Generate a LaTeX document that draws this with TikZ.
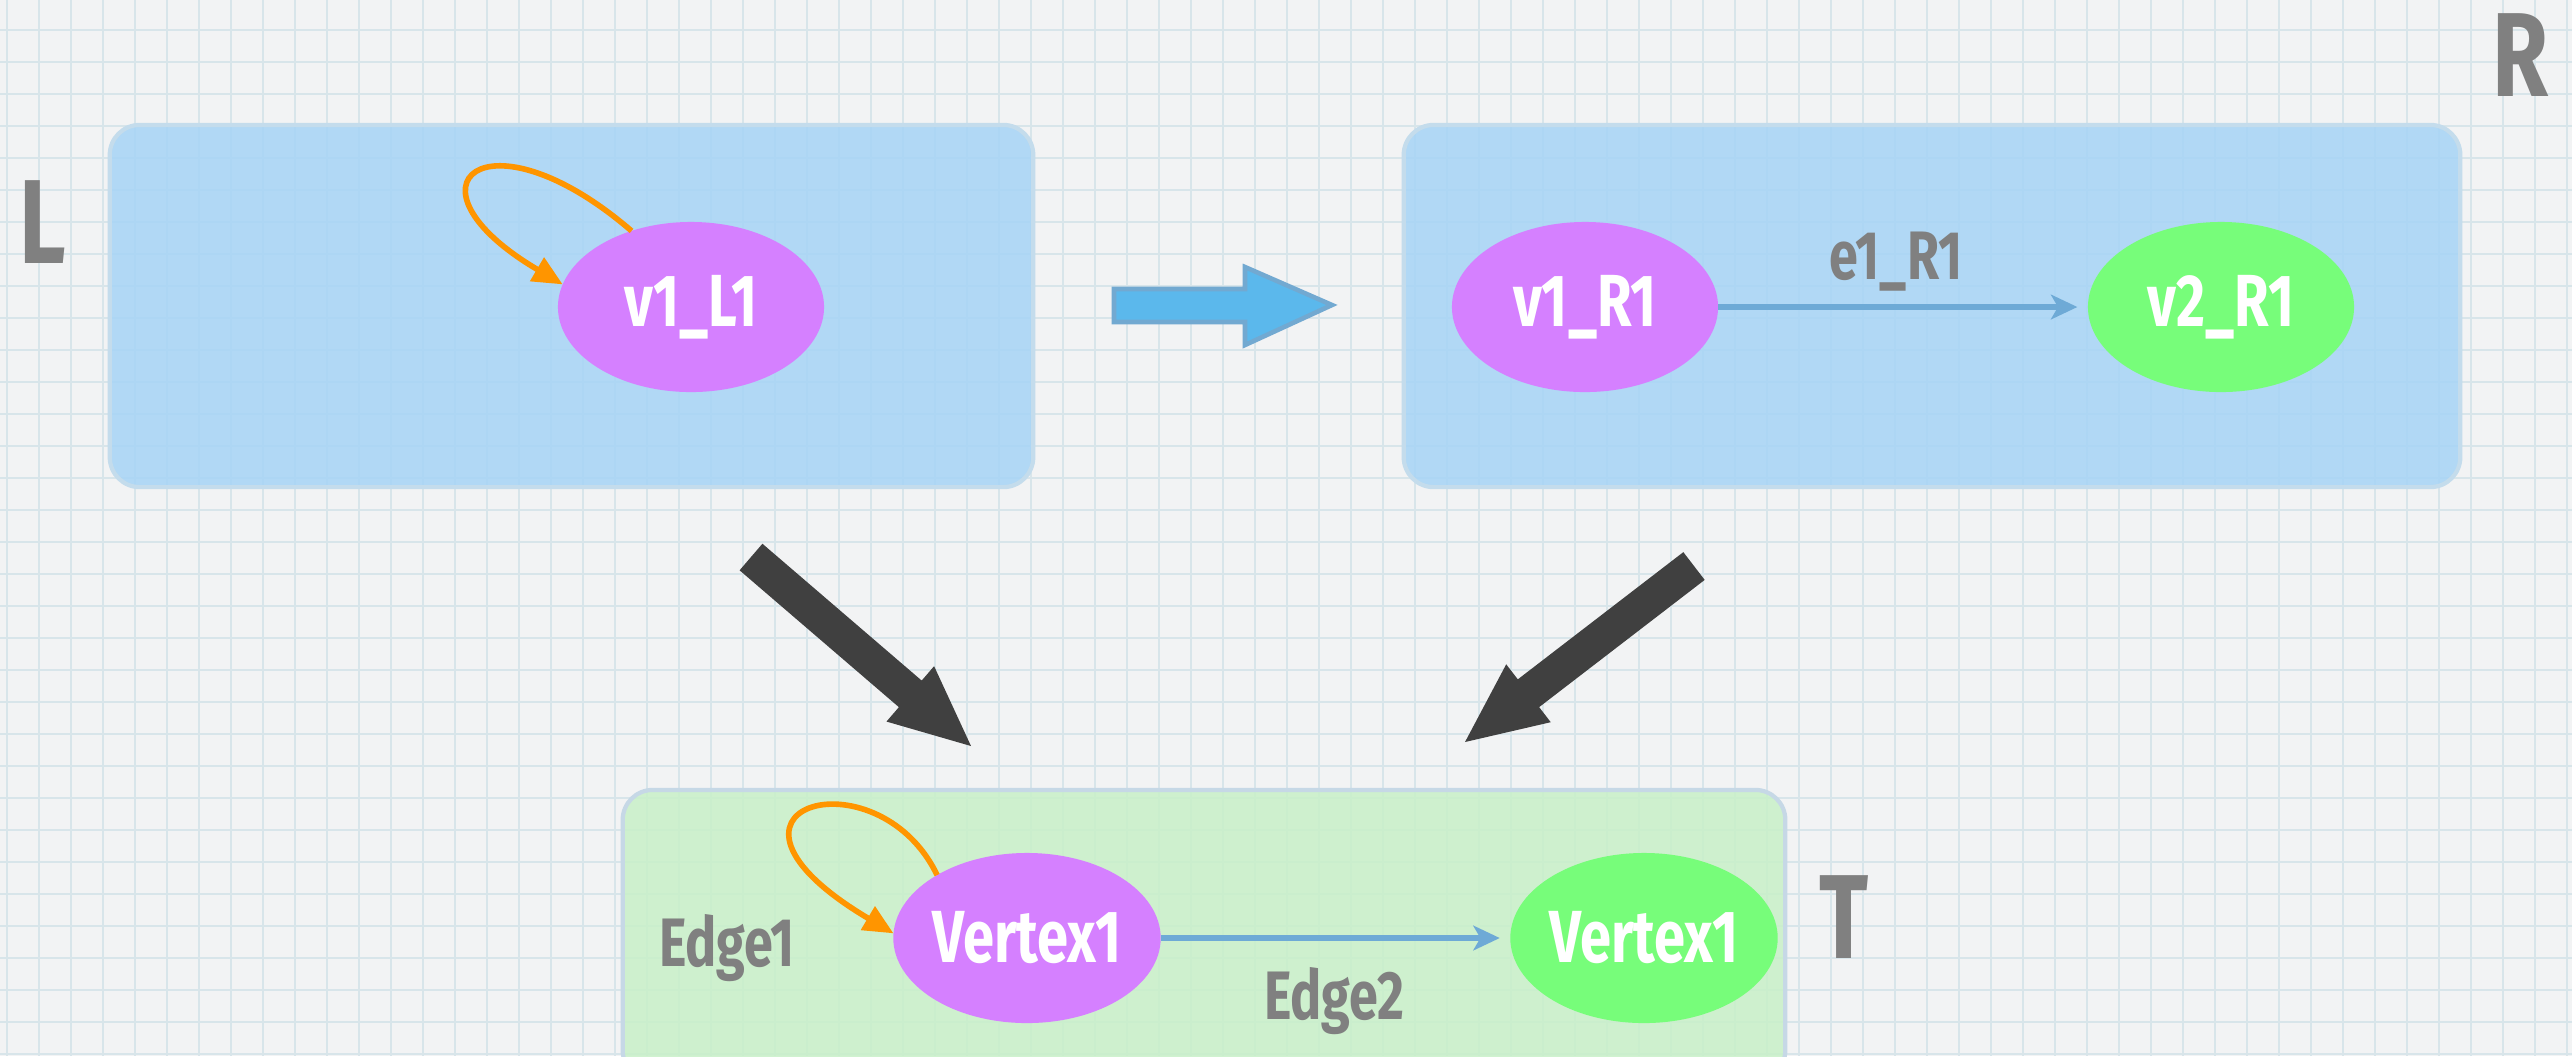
\documentclass[tikz,border=0pt]{standalone}
\usepackage{fontspec}
\setmainfont{Fira Sans}
\newfontfamily\hand[FakeStretch=0.76]{Fira Sans}
\usetikzlibrary{shapes.geometric,arrows.meta,calc}
\definecolor{bg}{HTML}{F2F3F4}
\definecolor{gridc}{HTML}{D8E5EA}
\definecolor{boxblue}{HTML}{A6D4F6}
\definecolor{boxblueb}{HTML}{C4DCEC}
\definecolor{boxgreen}{HTML}{C8F0C8}
\definecolor{boxgreenb}{HTML}{C6D8E6}
\definecolor{vpurple}{HTML}{D580FF}
\definecolor{vgreen}{HTML}{77FD7A}
\definecolor{lblgrey}{HTML}{808080}
\definecolor{loopc}{HTML}{FF9500}
\definecolor{edgeblue}{HTML}{6EAAD6}
\definecolor{bigarrow}{HTML}{404040}
\definecolor{barrow}{HTML}{5BB8EC}
\definecolor{barrowb}{HTML}{72A9D1}
\newcommand\morpharrow[2]{%
  \fill[bigarrow] ($(#1)!0.175cm!90:(#2)$)
    -- ($($(#2)!0.8cm!(#1)$)!0.175cm!-90:(#1)$)
    -- ($($(#2)!0.8cm!(#1)$)!0.365cm!-90:(#1)$)
    -- (#2)
    -- ($($(#2)!0.8cm!(#1)$)!0.365cm!90:(#1)$)
    -- ($($(#2)!0.8cm!(#1)$)!0.175cm!90:(#1)$)
    -- ($(#1)!0.175cm!-90:(#2)$) -- cycle;}
\begin{document}
\begin{tikzpicture}[x=0.01cm,y=-0.01cm,
  vert/.style={ellipse, minimum width=2.66cm, minimum height=1.70cm, inner sep=0pt, outer sep=0pt,
    text=white, font=\hand\bfseries\fontsize{21}{25}\selectfont},
  glabel/.style={text=lblgrey, inner sep=0pt, font=\hand\bfseries\fontsize{19.5}{23}\selectfont},
  biglabel/.style={text=lblgrey, inner sep=0pt, font=\hand\bfseries\fontsize{34}{40}\selectfont},
  panel/.style={rectangle, rounded corners=0.3cm, line width=1.2pt, fill opacity=0.85, inner sep=0pt, outer sep=0pt},
  loopedge/.style={draw=loopc, line width=1.6pt, -{Triangle[length=8.5pt,width=7.5pt]}},
  reledge/.style={draw=edgeblue, line width=1.6pt, -{Stealth[length=7.5pt,width=7pt,inset=2pt]}, shorten >=3pt},
]
\useasboundingbox (0,0) rectangle (2572,1056);
\clip (0,0) rectangle (2572,1056);
% background grid
\fill[bg] (0,0) rectangle (2572,1056);
\foreach \i in {0,...,80} \draw[gridc, line width=0.7pt] (7+32*\i,0) -- (7+32*\i,1056);
\foreach \j in {0,...,33} \draw[gridc, line width=0.7pt] (0,-2+32*\j) -- (2572,-2+32*\j);
% panels
\node[panel, draw=boxblueb, fill=boxblue, minimum width=9.23cm, minimum height=3.62cm] (Lbox) at (571.5,306) {};
\node[panel, draw=boxblueb, fill=boxblue, minimum width=10.56cm, minimum height=3.62cm] (Rbox) at (1932,306) {};
\node[panel, draw=boxgreenb, fill=boxgreen, minimum width=11.62cm, minimum height=2.9cm] (Tbox) at (1204,935) {};
% labels
\node[biglabel] (lblL) at (43,222) {L};
\node[biglabel] (lblR) at (2521,55) {R};
\node[biglabel] (lblT) at (1844,917) {T};
% L graph
\node[vert, fill=vpurple] (vL) at (691,307) {v1\_L1};
\draw[loopedge] (vL.128) .. controls +(-145,-125) and +(-170,-100) .. (vL.170);
% R graph
\node[vert, fill=vpurple] (vR1) at (1585,307) {v1\_R1};
\node[vert, fill=vgreen] (vR2) at (2221,307) {v2\_R1};
\draw[reledge] (vR1) -- (vR2);
\node[glabel] (eR) at (1896,262) {e1\_R1};
% T graph
\node[vert, fill=vpurple] (vT1) at (1027,938) {Vertex1};
\node[vert, fill=vgreen] (vT2) at (1644,938) {Vertex1};
\draw[loopedge] (vT1.145) .. controls +(-60,-125) and +(-214,-127) .. (vT1.178);
\draw[reledge] (vT1) -- (vT2);
\node[glabel] (e1T) at (727,948) {Edge1};
\node[glabel] (e2T) at (1334,1001) {Edge2};
% rule arrow L -> R
\draw[fill=barrow, draw=barrowb, line width=1.3pt, line join=miter]
  (1114,289) -- (1245,289) -- (1245,267) -- (1332,305) -- (1245,345) -- (1245,322) -- (1114,322) -- cycle;
% morphism arrows
\coordinate (m1s) at (751,557);
\coordinate (m1e) at (971,746);
\coordinate (m2s) at (1694,566);
\coordinate (m2e) at (1465,742);
\morpharrow{m1s}{m1e}
\morpharrow{m2s}{m2e}
\end{tikzpicture}
\end{document}
